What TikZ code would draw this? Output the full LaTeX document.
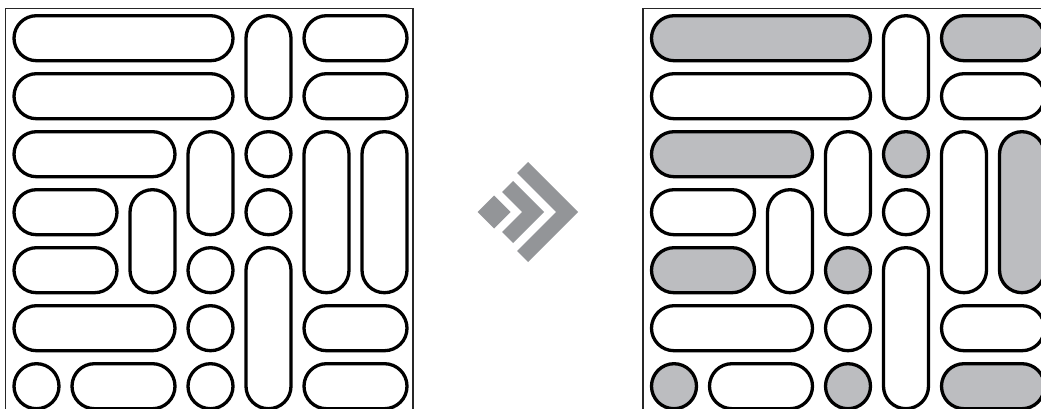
\documentclass[tikz,border=0pt]{standalone}
\definecolor{shade}{HTML}{BCBDC0}
\definecolor{arrowgray}{HTML}{939598}
\tikzset{
  blob/.style={draw=black, line width=3.3pt, rounded corners=22.49pt},
  frame/.style={draw=black!85, line width=1.3pt},
  arrowpart/.style={fill=arrowgray, draw=none}
}
\begin{document}
\begin{tikzpicture}[x=1pt,y=-1pt]
\useasboundingbox (0,0) rectangle (1041,409);
\clip (0,0) rectangle (1041,409);
\fill[white] (0,0) rectangle (1041,409);
% frames
\draw[frame] (5.5,430) -- (5.5,8.5) -- (413,8.5) -- (413,430);
\draw[frame] (643,430) -- (643,8.5) -- (1060,8.5) -- (1060,430);
% capsules: col a / col b / row a / row b / right-panel fill
\foreach \a/\b/\r/\s/\c in {
  1/4/1/1/shade, 5/5/1/2/white, 6/7/1/1/shade,
  1/4/2/2/white, 6/7/2/2/white,
  1/3/3/3/shade, 4/4/3/4/white, 5/5/3/3/shade, 6/6/3/5/white, 7/7/3/5/shade,
  1/2/4/4/white, 3/3/4/5/white, 5/5/4/4/white,
  1/2/5/5/shade, 4/4/5/5/shade, 5/5/5/7/white,
  1/3/6/6/white, 4/4/6/6/white, 6/7/6/6/white,
  1/1/7/7/shade, 2/3/7/7/white, 4/4/7/7/shade, 6/7/7/7/shade}{
  \draw[blob, fill=white]
    ({36.5+58*(\a-1)-22.5}, {38.2+58*(\r-1)-22.5}) rectangle
    ({36.5+58*(\b-1)+22.5}, {38.2+58*(\s-1)+22.5});
  \draw[blob, fill=\c]
    ({637.5+36.5+58*(\a-1)-22.5}, {38.2+58*(\r-1)-22.5}) rectangle
    ({637.5+36.5+58*(\b-1)+22.5}, {38.2+58*(\s-1)+22.5});
}
% arrow icon
\path[arrowpart] (477.5,212) -- (494,195.5) -- (510.5,212) -- (494,228.5) -- cycle;
\path[arrowpart] (513,181) -- (544,212) -- (513,243) -- (502,232) -- (522,212) -- (502,192) -- cycle;
\path[arrowpart] (528,162) -- (578,212) -- (528,262) -- (517,251) -- (556,212) -- (517,173) -- cycle;
\end{tikzpicture}
\end{document}
